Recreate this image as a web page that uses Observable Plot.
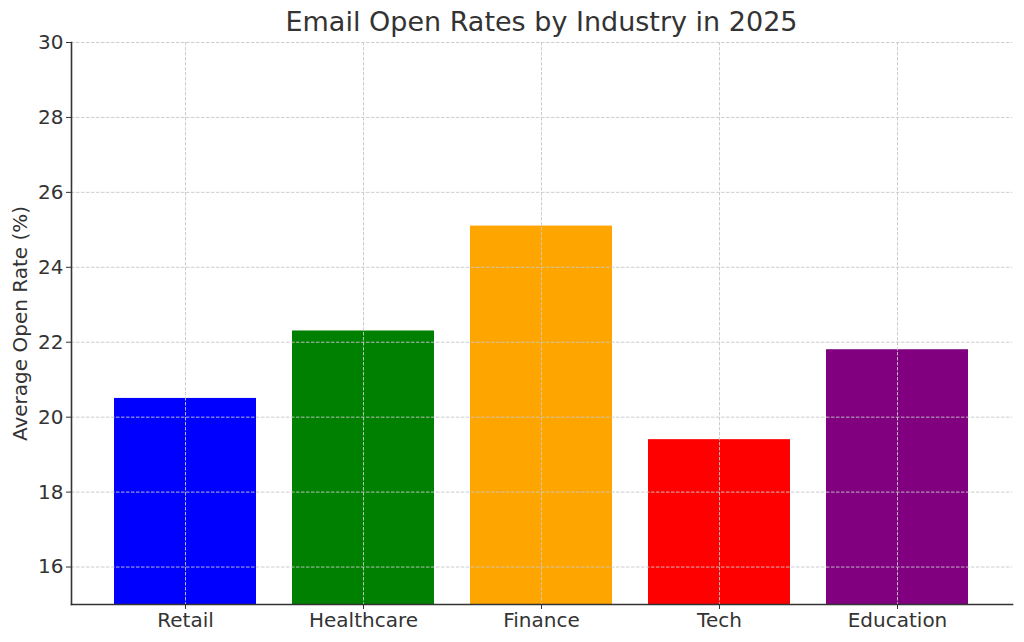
<!DOCTYPE html>
<html>
<head>
<meta charset="utf-8">
<script src="https://cdn.jsdelivr.net/npm/d3@7"></script>
<script src="https://cdn.jsdelivr.net/npm/@observablehq/plot@0.6"></script>
<style>
  html, body { margin: 0; padding: 0; background: white; }
  body { width: 1024px; height: 642px; overflow: hidden; font-family: "DejaVu Sans", sans-serif; }
  #title { height: 30px; box-sizing: border-box; padding-left: 71px; width: 1024px; padding-right: 12px;
           text-align: center; font-size: 27px; color: #333; line-height: 27px; padding-top: 8px; white-space: nowrap; }
  #chart svg { overflow: visible; }
</style>
</head>
<body>
<div id="title">Email Open Rates by Industry in 2025</div>
<div id="chart"></div>
<script>
const industries = ["Retail", "Healthcare", "Finance", "Tech", "Education"];
const openRates = [20.5, 22.3, 25.1, 19.4, 21.8];
const barColors = ["#0000ff", "#008000", "#ffa500", "#ff0000", "#800080"];
const yTicks = [16, 18, 20, 22, 24, 26, 28, 30];

const data = industries.map((name, i) => ({name, value: openRates[i], color: barColors[i]}));

const plot = Plot.plot({
  width: 1024,
  height: 612,
  marginTop: 12,
  marginBottom: 38,
  marginLeft: 71,
  marginRight: 12,
  style: {fontFamily: "DejaVu Sans, sans-serif", fontSize: "20px", color: "#333", background: "white"},
  x: {domain: industries, paddingInner: 0.2, paddingOuter: 0.24, align: 0.5, label: null},
  y: {domain: [15, 30], label: null},
  marks: [
    Plot.barY(data, {x: "name", y1: 15, y2: "value", fill: "color", clip: true}),
    Plot.gridY(yTicks, {stroke: "#c8c8c8", strokeOpacity: 1, strokeDasharray: "3.5,1.5", strokeWidth: 0.9}),
    Plot.gridX(industries, {stroke: "#c8c8c8", strokeOpacity: 1, strokeDasharray: "3.5,1.5", strokeWidth: 0.9}),
    Plot.axisY(yTicks, {tickSize: 5, tickPadding: 3, stroke: "#333", fill: "#333", fontSize: 20,
      label: "Average Open Rate (%)", labelAnchor: "center", labelArrow: false, labelOffset: 59}),
    Plot.axisX(industries, {tickSize: 5, tickPadding: 3, stroke: "#333", fill: "#333", fontSize: 20, label: null}),
    Plot.frame({anchor: "left", stroke: "#333", strokeWidth: 1.6}),
    Plot.frame({anchor: "bottom", stroke: "#333", strokeWidth: 1.6})
  ]
});
document.getElementById("chart").appendChild(plot);
</script>
</body>
</html>
